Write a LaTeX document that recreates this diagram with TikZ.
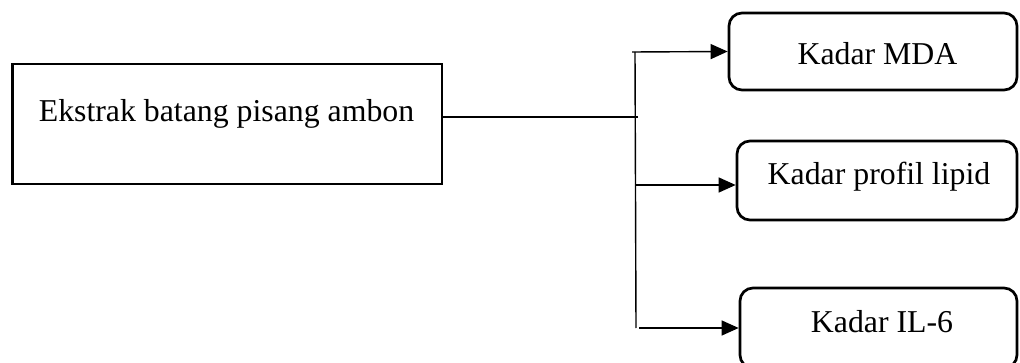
\documentclass[tikz,border=0pt]{standalone}
\usepackage{fontspec}
\setmainfont{Liberation Serif}
\usetikzlibrary{arrows.meta}
\begin{document}
\begin{tikzpicture}[x=1pt,y=-1pt,
  sqbox/.style={draw, line width=2.7pt, inner sep=0pt},
  rbox/.style={draw, line width=2.7pt, inner sep=0pt, rounded corners=13pt},
  lbl/.style={anchor=base, inner sep=0pt, font=\fontsize{31.8}{36}\selectfont},
  conn/.style={line width=1.4pt},
  arr/.style={line width=1.4pt, -{Triangle[length=17pt,width=15pt]}}]
\useasboundingbox (0,0) rectangle (1020,363);
\begin{scope}
\clip (0,0) rectangle (1020,363);
% boxes
\node[sqbox, minimum width=429.5pt, minimum height=120pt] (src) at (227.25,124) {};
\node[rbox, minimum width=288pt, minimum height=77pt] (mda) at (873,51.5) {};
\node[rbox, minimum width=280pt, minimum height=79pt] (lip) at (877,180.5) {};
\node[rbox, minimum width=277pt, minimum height=80pt] (il) at (878.5,328) {};
% texts
\node[lbl] (tsrc) at (226.5,122) {Ekstrak batang pisang ambon};
\node[lbl] (tmda) at (877.5,65) {Kadar MDA};
\node[lbl] (tlip) at (879,185) {Kadar profil lipid};
\node[lbl] (til) at (882,332) {Kadar IL-6};
% connectors
\coordinate (j) at (638,117);
\coordinate (vt) at (635,52);
\coordinate (vb) at (636,328);
\coordinate (t1) at (632,52);
\coordinate (t2) at (636,185);
\coordinate (t3) at (639,328);
\draw[conn] (j -| src.east) -- (j);
\draw[conn] (vt) -- (vb);
\draw[arr] (t1) -- (mda.west);
\draw[arr] (t2) -- (t2 -| lip.west);
\draw[arr] (t3) -- (t3 -| il.west);
\end{scope}
\end{tikzpicture}
\end{document}
